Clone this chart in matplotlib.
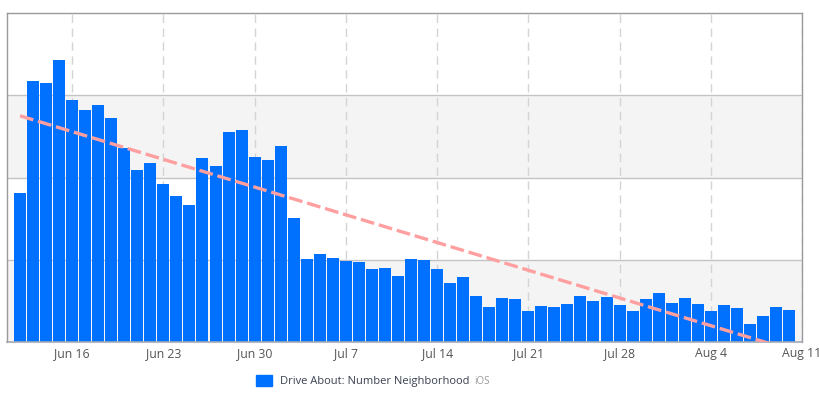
import numpy as np
import matplotlib
matplotlib.use("Agg")
import matplotlib.pyplot as plt
import matplotlib.dates as mdates
from matplotlib.patches import Patch

plt.rcParams['font.family'] = ['Open Sans', 'DejaVu Sans']
plt.rcParams['lines.scale_dashes'] = False

# daily counts, Jun 12 .. Aug 10
start = np.datetime64('2017-06-12')
values = [181, 317, 315, 343, 294, 282, 288, 272, 236, 209,
          218, 192, 178, 167, 224, 214, 255, 258, 225, 221,
          238, 151, 101, 107, 102, 99, 97, 89, 90, 80,
          101, 100, 89, 72, 79, 56, 43, 53, 52, 38,
          44, 43, 46, 56, 50, 55, 45, 38, 52, 60,
          47, 53, 46, 38, 45, 41, 22, 32, 43, 39]
days = start + np.arange(len(values))

# trend line end points
trend_x = [days[0], days[-1]]
trend_y = [275, -9]

tick_dates = ['2017-06-16', '2017-06-23', '2017-06-30', '2017-07-07', '2017-07-14',
              '2017-07-21', '2017-07-28', '2017-08-04', '2017-08-11']
tick_labels = ['Jun 16', 'Jun 23', 'Jun 30', 'Jul 7', 'Jul 14',
               'Jul 21', 'Jul 28', 'Aug 4', 'Aug 11']

bar_color = '#0070ff'

fig = plt.figure(figsize=(8.19, 3.99), dpi=100)
ax = fig.add_axes([7/819, (399-342)/399, 795/819, 329/399])

ax.axhspan(0, 100, color='#f4f4f4', zorder=0, lw=0)
ax.axhspan(200, 300, color='#f4f4f4', zorder=0, lw=0)
for yv in [100, 200, 300]:
    ax.axhline(yv, color='#c4c4c4', lw=1.0, zorder=1)
ticks = [mdates.date2num(np.datetime64(d)) for d in tick_dates]
for t in ticks:
    ax.axvline(t, color='#d4d4d4', lw=1.0, dashes=(6, 4), zorder=1)

ax.bar(days, values, width=0.92, color=bar_color, zorder=2, label='Drive About: Number Neighborhood')
ax.plot(trend_x, trend_y, color='#ff9f9f', lw=2.4, dashes=(10, 3.5), zorder=3)

ax.set_xlim(np.datetime64('2017-06-11'), np.datetime64('2017-08-11'))
ax.set_ylim(0, 400)
ax.set_yticks([])
ax.set_xticks(ticks)
ax.set_xticklabels(tick_labels, fontsize=8.8, color='#555555')
ax.tick_params(axis='x', length=0, pad=3.5)

for s in ['left', 'top', 'right']:
    ax.spines[s].set_color('#9a9a9a')
    ax.spines[s].set_linewidth(1.0)
ax.spines['bottom'].set_color('#a4aab4')
ax.spines['bottom'].set_linewidth(1.2)

handles = [Patch(color=bar_color, label='Drive About: Number Neighborhood')]
fig.legend(handles=handles, loc='center left', bbox_to_anchor=(256/819, 1 - 381/399),
           frameon=False, fontsize=8, handlelength=1.45, handleheight=1.1,
           handletextpad=0.7, borderpad=0, borderaxespad=0, labelcolor='#3a4050')
fig.text(474/819, 1 - 381/399, 'iOS', fontsize=7, color='#9a9a9a', va='center')

fig.savefig('out.png', dpi=100)
